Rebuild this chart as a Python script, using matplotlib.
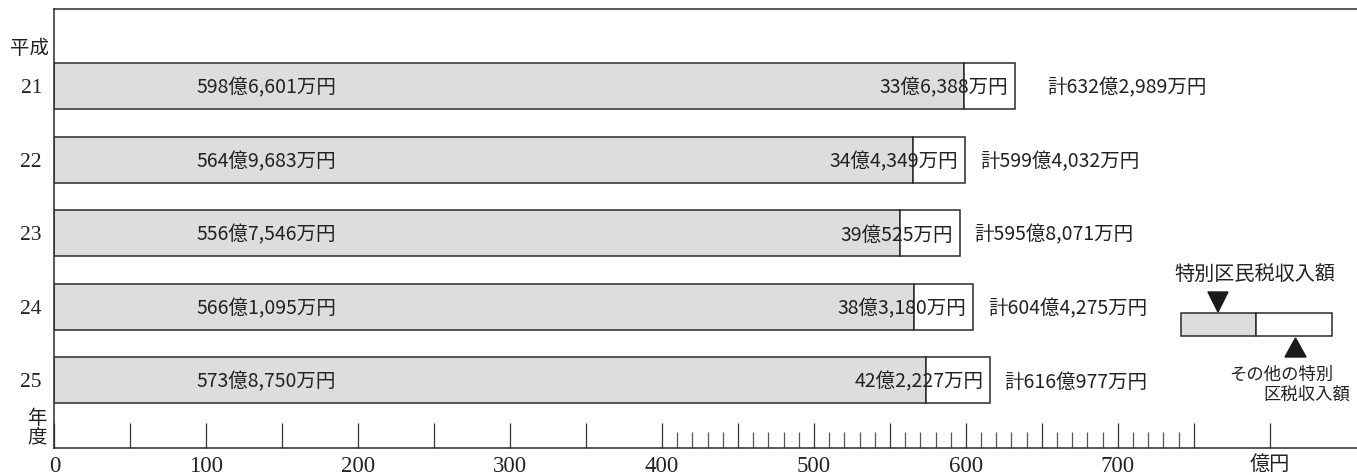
import matplotlib
matplotlib.use("Agg")
import matplotlib.pyplot as plt
import matplotlib.patches as mpatches
import numpy as np

plt.rcParams['font.family'] = ['Noto Sans CJK JP', 'DejaVu Sans']

# ---- data (億円) ----
years = ['21', '22', '23', '24', '25']
ward_tax = [598.6601, 564.9683, 556.7546, 566.1095, 573.8750]
other_tax = [33.6388, 34.4349, 39.0525, 38.3180, 42.2227]
ward_labels = ['598億6,601万円', '564億9,683万円', '556億7,546万円', '566億1,095万円', '573億8,750万円']
other_labels = ['33億6,388万円', '34億4,349万円', '39億525万円', '38億3,180万円', '42億2,227万円']
total_labels = ['計632億2,989万円', '計599億4,032万円', '計595億8,071万円', '計604億4,275万円', '計616億977万円']
xtick_vals = [0, 100, 200, 300, 400, 500, 600, 700, 800]
xtick_texts = ['0', '100', '200', '300', '400', '500', '600', '700', '億円']

W, H = 1357, 475
DPI = 100
fig = plt.figure(figsize=(W / DPI, H / DPI), dpi=DPI)

ax_left, ax_right, ax_top, ax_bot = 54.5, 1357, 9, 448
ax = fig.add_axes([ax_left / W, 1 - ax_bot / H, (ax_right - ax_left) / W, (ax_bot - ax_top) / H])

pxu = 1.519
ax.set_xlim(0, (ax_right - ax_left) / pxu)
ax.set_ylim(4.925, -1.048)

edge = '#2b2b2b'
gray = '#dcdddf'
y = np.arange(len(years))
totals = [a + b for a, b in zip(ward_tax, other_tax)]

ax.barh(y, ward_tax, height=0.626, color=gray, edgecolor=edge, linewidth=1.1, zorder=2)
ax.barh(y, other_tax, left=ward_tax, height=0.626, color='white', edgecolor=edge, linewidth=1.1, zorder=2)

total_off = [21, 10, 10, 10, 9]
for i in range(len(years)):
    ax.text(93.5, y[i] + 0.03, ward_labels[i], ha='left', va='center', fontsize=14, color='#222', zorder=3)
    ax.text(totals[i] - 4.5, y[i] + 0.03, other_labels[i], ha='right', va='center', fontsize=14, color='#222', zorder=3)
    ax.text(totals[i] + total_off[i], y[i] + 0.03, total_labels[i], ha='left', va='center', fontsize=14, color='#222', zorder=3)

# spines
for s in ['top', 'left', 'bottom']:
    ax.spines[s].set_linewidth(1.1)
    ax.spines[s].set_color(edge)
ax.spines['right'].set_visible(False)

# x ticks
major = list(range(0, 801, 50))
minor = [v for v in range(410, 750, 10) if v % 50 != 0]
ax.set_xticks(major)
lab = []
for v in major:
    if v in xtick_vals:
        lab.append(xtick_texts[xtick_vals.index(v)])
    else:
        lab.append('')
ax.set_xticklabels(lab, family=['Liberation Serif', 'Noto Sans CJK JP'], fontsize=16.5, color='#222')
ax.get_xticklabels()[-1].set_fontsize(14.5)
ax.set_xticks(minor, minor=True)
ax.tick_params(axis='x', which='major', direction='in', length=18, width=0.9, color='#333', pad=6)
ax.tick_params(axis='x', which='minor', direction='in', length=11.5, width=0.9, color='#555')

# y ticks
ax.set_yticks(y)
ax.set_yticklabels(years, family=['Liberation Serif'], fontsize=15.5, color='#222')
ax.tick_params(axis='y', length=0, pad=9)


def fx(x):
    return x / W


def fy(yy):
    return 1 - yy / H


fig.text(fx(29.5), fy(49), '平成', ha='center', va='center', fontsize=14, color='#222')
fig.text(fx(37), fy(418), '年', ha='center', va='center', fontsize=14, color='#222')
fig.text(fx(37), fy(437), '度', ha='center', va='center', fontsize=14, color='#222')

# legend
fig.text(fx(1255), fy(274), '特別区民税収入額', ha='center', va='center', fontsize=14.5, color='#222')
fig.patches.append(mpatches.Polygon([(fx(1208), fy(292)), (fx(1228), fy(292)), (fx(1218), fy(312))],
                                    closed=True, transform=fig.transFigure, color='#1a1a1a'))
fig.patches.append(mpatches.Rectangle((fx(1181), fy(336)), (1256 - 1181) / W, 23 / H,
                                      transform=fig.transFigure, facecolor=gray, edgecolor=edge, linewidth=1.1))
fig.patches.append(mpatches.Rectangle((fx(1256), fy(336)), (1332 - 1256) / W, 23 / H,
                                      transform=fig.transFigure, facecolor='white', edgecolor=edge, linewidth=1.1))
fig.patches.append(mpatches.Polygon([(fx(1285), fy(357)), (fx(1306), fy(357)), (fx(1295.5), fy(338))],
                                    closed=True, transform=fig.transFigure, color='#1a1a1a'))
fig.text(fx(1281), fy(375), 'その他の特別', ha='center', va='center', fontsize=12.5, color='#222')
fig.text(fx(1307), fy(395), '区税収入額', ha='center', va='center', fontsize=12.5, color='#222')

fig.savefig('out.png', dpi=DPI)
